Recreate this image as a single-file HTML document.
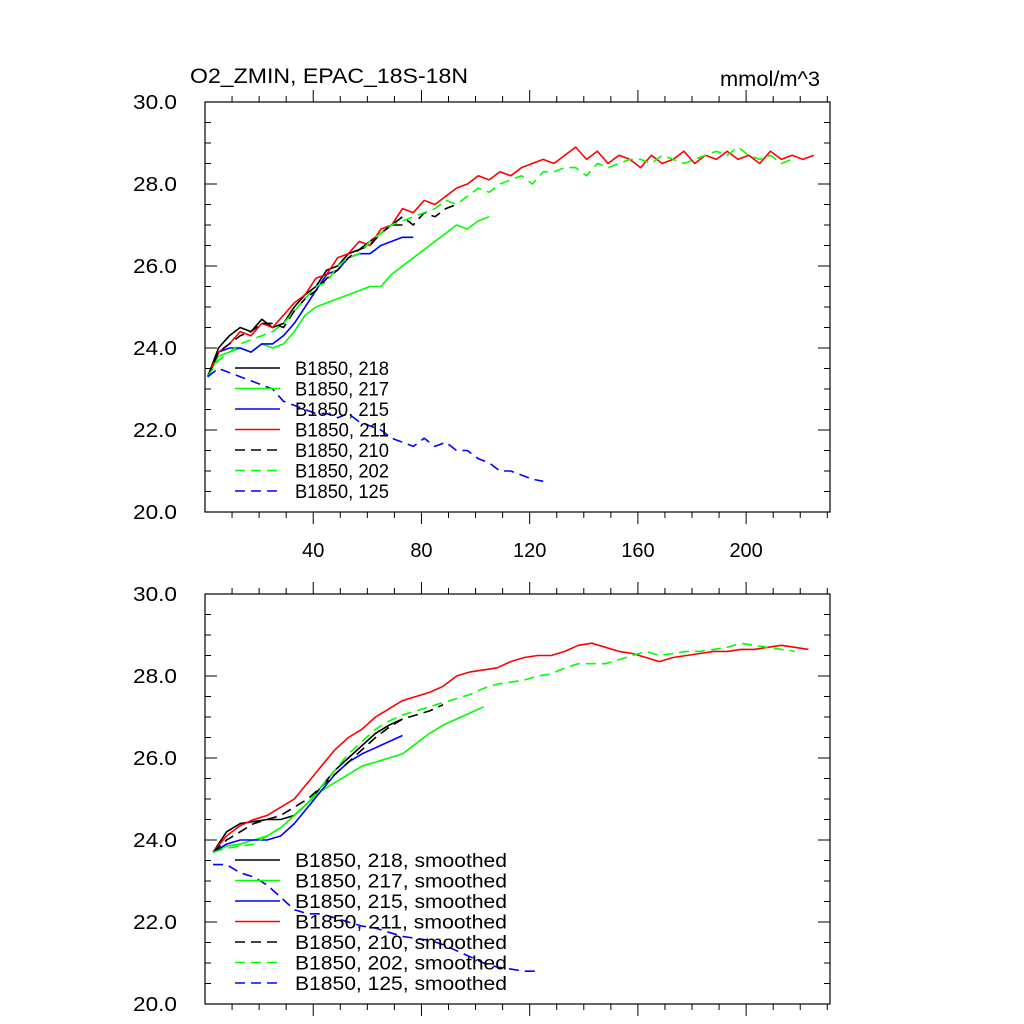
<!DOCTYPE html>
<html><head><meta charset="utf-8"><style>
body{margin:0;background:#fff}
svg{display:block;font-family:"Liberation Sans",sans-serif}
</style></head><body>
<svg id="c" width="1024" height="1024" viewBox="0 0 1024 1024">
<text x="190" y="83" font-size="21" textLength="278" lengthAdjust="spacingAndGlyphs">O2_ZMIN, EPAC_18S-18N</text>
<text x="820" y="86" font-size="21" text-anchor="end" textLength="100" lengthAdjust="spacingAndGlyphs">mmol/m^3</text>
</svg>
<script>
// ---- data ----
const yTicks=[20,22,24,26,28,30];
const yTickLabels=["20.0","22.0","24.0","26.0","28.0","30.0"];
const xTicks=[40,80,120,160,200];
const xTickLabels=["40","80","120","160","200"];
const seriesNames=["B1850, 218","B1850, 217","B1850, 215","B1850, 211","B1850, 210","B1850, 202","B1850, 125"];
// raw series: start year 1, step 4 years
const raw218=[23.3,24.0,24.3,24.5,24.4,24.7,24.5,24.6,25.0,25.3,25.5,25.9,26.0,26.3,26.4,26.6,26.8,27.0,27.0];
const raw217=[23.3,23.8,23.9,24.0,23.9,24.1,24.0,24.1,24.4,24.8,25.0,25.1,25.2,25.3,25.4,25.5,25.5,25.8,26.0,26.2,26.4,26.6,26.8,27.0,26.9,27.1,27.2];
const raw215=[23.3,23.9,24.0,24.0,23.9,24.1,24.1,24.3,24.6,25.0,25.4,25.8,25.9,26.2,26.3,26.3,26.5,26.6,26.7,26.7];
const raw211=[23.3,23.9,24.1,24.4,24.3,24.6,24.5,24.8,25.1,25.3,25.7,25.8,26.2,26.3,26.6,26.5,26.9,27.0,27.4,27.3,27.6,27.5,27.7,27.9,28.0,28.2,28.1,28.3,28.2,28.4,28.5,28.6,28.5,28.7,28.9,28.6,28.8,28.5,28.7,28.6,28.4,28.7,28.5,28.6,28.8,28.5,28.7,28.6,28.8,28.6,28.7,28.5,28.8,28.6,28.7,28.6,28.7];
const raw210=[23.3,23.9,24.1,24.3,24.4,24.6,24.6,24.5,24.9,25.2,25.4,25.7,25.9,26.2,26.4,26.5,26.8,27.0,27.2,27.0,27.3,27.2,27.4,27.5];
const raw202=[23.3,23.7,23.9,24.1,24.2,24.3,24.4,24.6,24.9,25.2,25.5,25.6,26.0,26.2,26.3,26.6,26.8,27.0,27.1,27.2,27.3,27.4,27.6,27.5,27.7,27.9,27.8,28.0,28.1,28.2,28.0,28.3,28.3,28.4,28.4,28.2,28.5,28.4,28.5,28.6,28.6,28.5,28.7,28.6,28.5,28.6,28.7,28.8,28.7,28.9,28.7,28.6,28.7,28.5,28.6];
const raw125=[23.3,23.5,23.4,23.3,23.2,23.1,23.0,22.7,22.6,22.5,22.4,22.4,22.3,22.4,22.2,22.1,22.0,21.8,21.7,21.6,21.8,21.6,21.7,21.5,21.5,21.3,21.2,21.0,21.0,20.9,20.8,20.75];
// smoothed series: start year 3, step 5 years
const sm218=[23.7,24.2,24.4,24.45,24.5,24.5,24.6,24.9,25.3,25.7,26.0,26.3,26.6,26.8,26.95];
const sm217=[23.7,23.85,23.9,24.0,24.1,24.3,24.6,24.9,25.2,25.4,25.6,25.8,25.9,26.0,26.1,26.35,26.6,26.8,26.95,27.1,27.25];
const sm215=[23.7,23.9,24.0,24.0,24.0,24.1,24.4,24.8,25.2,25.6,25.9,26.1,26.25,26.4,26.55];
const sm211=[23.7,24.1,24.35,24.5,24.6,24.8,25.0,25.4,25.8,26.2,26.5,26.7,27.0,27.2,27.4,27.5,27.6,27.75,28.0,28.1,28.15,28.2,28.35,28.45,28.5,28.5,28.6,28.75,28.8,28.7,28.6,28.55,28.45,28.35,28.45,28.5,28.55,28.6,28.6,28.65,28.65,28.7,28.75,28.7,28.65];
const sm210=[23.7,24.0,24.2,24.4,24.5,24.6,24.8,25.0,25.3,25.6,25.9,26.2,26.5,26.75,26.95,27.05,27.15,27.3];
const sm202=[23.7,23.8,23.85,23.9,24.1,24.3,24.6,24.9,25.3,25.7,26.1,26.4,26.7,26.9,27.05,27.15,27.25,27.35,27.45,27.55,27.7,27.8,27.85,27.9,28.0,28.05,28.2,28.3,28.3,28.3,28.4,28.5,28.6,28.5,28.55,28.6,28.6,28.65,28.7,28.8,28.75,28.7,28.65,28.6];
const sm125=[23.4,23.4,23.2,23.1,22.9,22.6,22.3,22.2,22.2,22.1,22.0,21.9,21.85,21.75,21.65,21.6,21.55,21.45,21.3,21.15,21.0,20.9,20.85,20.8,20.8];
</script>
<script>
const svg=document.getElementById('c');
const NS='http://www.w3.org/2000/svg';
const X0=205,X1=830,XMIN=0,XMAX=231;
function sx(v){return X0+(v-XMIN)/(XMAX-XMIN)*(X1-X0);}
function mk(tag,attrs,parent){const e=document.createElementNS(NS,tag);for(const k in attrs)e.setAttribute(k,attrs[k]);(parent||svg).appendChild(e);return e;}
const colors=['#000','#00ff00','#0000ff','#ff0000','#000','#00ff00','#0000ff'];
const dashed=[false,false,false,false,true,true,true];
function panel(top,bot,series,start,step,suffix,legTop,showX,pname){
  const g=mk('g',{});
  
  
  const sy=v=>bot-(v-20)/10*(bot-top);
  series.forEach((arr,i)=>{
    const pts=arr.map((v,j)=>sx(start+j*step).toFixed(1)+','+sy(v).toFixed(1)).join(' ');
    const p=mk('polyline',{points:pts,fill:'none',stroke:colors[i],'stroke-width':1.6,'stroke-linejoin':'round'},g);
    if(dashed[i])p.setAttribute('stroke-dasharray','10,6');
    
    
  });
  const f=mk('rect',{x:X0,y:top,width:X1-X0,height:bot-top,fill:'none',stroke:'#000','stroke-width':1.2},g);
  
  
  for(let v=20;v<=30.001;v+=0.5){
    const maj=Math.abs(v-Math.round(v/2)*2)<0.01;const L=maj?12:6;
    mk('line',{x1:X0,x2:X0+L,y1:sy(v),y2:sy(v),stroke:'#000','stroke-width':1},g);
    mk('line',{x1:X1,x2:X1-L,y1:sy(v),y2:sy(v),stroke:'#000','stroke-width':1},g);
  }
  yTicks.forEach((v,i)=>{
    const t=mk('text',{x:177,y:sy(v)+7,'font-size':20,'text-anchor':'end',textLength:44,lengthAdjust:'spacingAndGlyphs'},g);
    t.textContent=yTickLabels[i];
    
    
  });
  for(let v=10;v<XMAX;v+=10){
    const maj=v%40===0;const L=maj?12:6;
    mk('line',{x1:sx(v),x2:sx(v),y1:bot,y2:bot+L,stroke:'#000','stroke-width':1},g);
    mk('line',{x1:sx(v),x2:sx(v),y1:top,y2:top-L,stroke:'#000','stroke-width':1},g);
  }
  if(showX) xTicks.forEach((v,i)=>{
    const t=mk('text',{x:sx(v),y:bot+45,'font-size':20,'text-anchor':'middle'},g);
    t.textContent=xTickLabels[i];
    
    
  });
  seriesNames.forEach((n,i)=>{
    const y=legTop+i*20.5;
    const l=mk('line',{x1:235,x2:280,y1:y,y2:y,stroke:colors[i],'stroke-width':1.6},g);
    if(dashed[i])l.setAttribute('stroke-dasharray','10,6');
    
    
    const t=mk('text',{x:295,y:y+7,'font-size':19,textLength:suffix?212:94,lengthAdjust:'spacingAndGlyphs'},g);
    t.textContent=n+suffix;
    
    
  });
}
panel(102,512,[raw218,raw217,raw215,raw211,raw210,raw202,raw125],1,4,'',368,true,'raw-panel');
panel(594,1004,[sm218,sm217,sm215,sm211,sm210,sm202,sm125],3,5,', smoothed',860,false,'smoothed-panel');
</script>
</body></html>
